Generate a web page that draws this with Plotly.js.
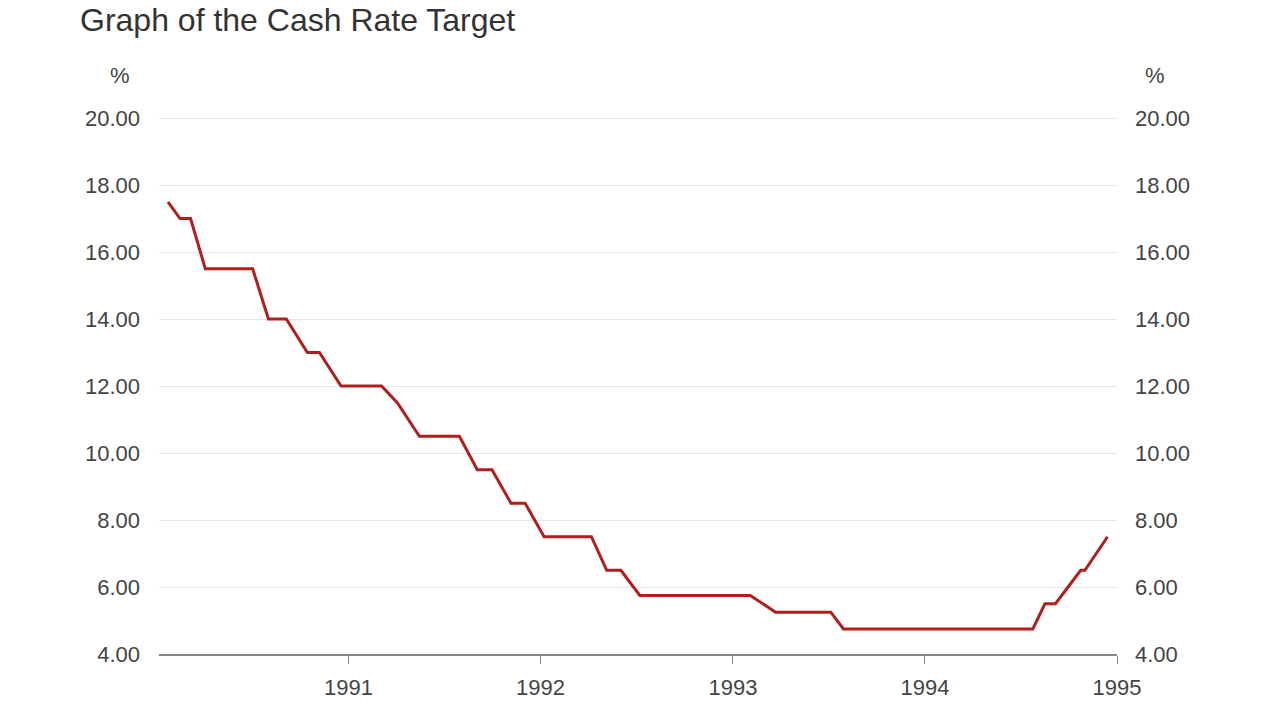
<!DOCTYPE html>
<html>
<head>
<meta charset="utf-8">
<script src="https://cdn.plot.ly/plotly-3.0.1.min.js"></script>
<style>
  html, body { margin: 0; padding: 0; background: #fff; }
  #chart { width: 1280px; height: 719px; }
</style>
</head>
<body>
<div id="chart"></div>
<script>
// Cash rate target (dates of the line's corners)
var rateDates = [
  '1990-01-23', '1990-02-15', '1990-03-07', '1990-04-04', '1990-07-03',
  '1990-08-02', '1990-09-05', '1990-10-15', '1990-11-07', '1990-12-18',
  '1991-03-05', '1991-04-04', '1991-05-16', '1991-07-31', '1991-09-03',
  '1991-10-01', '1991-11-06', '1991-12-03', '1992-01-08', '1992-04-07',
  '1992-05-06', '1992-06-02', '1992-07-08', '1993-02-03', '1993-03-23',
  '1993-07-06', '1993-07-30', '1994-07-25', '1994-08-17', '1994-09-06',
  '1994-10-24', '1994-11-01', '1994-12-14'
];
var rateValues = [
  17.50, 17.00, 17.00, 15.50, 15.50,
  14.00, 14.00, 13.00, 13.00, 12.00,
  12.00, 11.50, 10.50, 10.50, 9.50,
  9.50, 8.50, 8.50, 7.50, 7.50,
  6.50, 6.50, 5.75, 5.75, 5.25,
  5.25, 4.75, 4.75, 5.50, 5.50,
  6.50, 6.50, 7.50
];
var yearTicks = ['1991-01-01', '1992-01-01', '1993-01-01', '1994-01-01', '1995-01-01'];
var yearLabels = ['1991', '1992', '1993', '1994', '1995'];
var yTicks = [4, 6, 8, 10, 12, 14, 16, 18, 20];

var tickFont = { family: 'Liberation Sans, Arial, sans-serif', size: 22, color: '#444' };

const trace = {
  x: rateDates,
  y: rateValues,
  type: 'scatter',
  mode: 'lines',
  line: { color: '#b01e1e', width: 3 },
  hoverinfo: 'x+y'
};

// same series on the right-hand axis, not drawn, so that axis gets its labels
const traceRight = {
  x: rateDates,
  y: rateValues,
  yaxis: 'y2',
  type: 'scatter',
  mode: 'lines',
  line: { color: 'rgba(0,0,0,0)', width: 0 },
  hoverinfo: 'skip'
};

const layout = {
  width: 1280,
  height: 719,
  paper_bgcolor: '#fff',
  plot_bgcolor: '#fff',
  showlegend: false,
  margin: { l: 159, r: 163, t: 116, b: 65 },
  title: {
    text: 'Graph of the Cash Rate Target',
    font: { family: 'Liberation Sans, Arial, sans-serif', size: 32, color: '#333' },
    x: 80 / 1280, xanchor: 'left', xref: 'container',
    y: 1 - 20 / 719, yanchor: 'middle', yref: 'container'
  },
  xaxis: {
    type: 'date',
    range: ['1990-01-06', '1995-01-01'],
    tickvals: yearTicks,
    ticktext: yearLabels,
    tickfont: tickFont,
    ticks: 'outside',
    ticklen: 8,
    tickcolor: '#888',
    showgrid: false,
    showline: true,
    linecolor: '#888',
    linewidth: 2,
    zeroline: false,
    ticklabelstandoff: 5
  },
  yaxis: {
    range: [4, 20.06],
    tickvals: yTicks,
    tickformat: '.2f',
    tickfont: tickFont,
    gridcolor: '#e6e6e6',
    gridwidth: 1,
    zeroline: false,
    showline: false,
    ticklabelstandoff: 18
  },
  yaxis2: {
    overlaying: 'y',
    side: 'right',
    range: [4, 20.06],
    tickvals: yTicks,
    tickformat: '.2f',
    tickfont: tickFont,
    showgrid: false,
    zeroline: false,
    showline: false,
    ticklabelstandoff: 17
  },
  annotations: [
    { text: '%', xref: 'paper', yref: 'paper', x: (120 - 159) / 958, y: (654 - 75) / 538,
      xanchor: 'center', yanchor: 'middle', showarrow: false, font: tickFont },
    { text: '%', xref: 'paper', yref: 'paper', x: (1155 - 159) / 958, y: (654 - 75) / 538,
      xanchor: 'center', yanchor: 'middle', showarrow: false, font: tickFont }
  ]
};

Plotly.newPlot('chart', [trace, traceRight], layout, { displayModeBar: false, staticPlot: true });
</script>
</body>
</html>
